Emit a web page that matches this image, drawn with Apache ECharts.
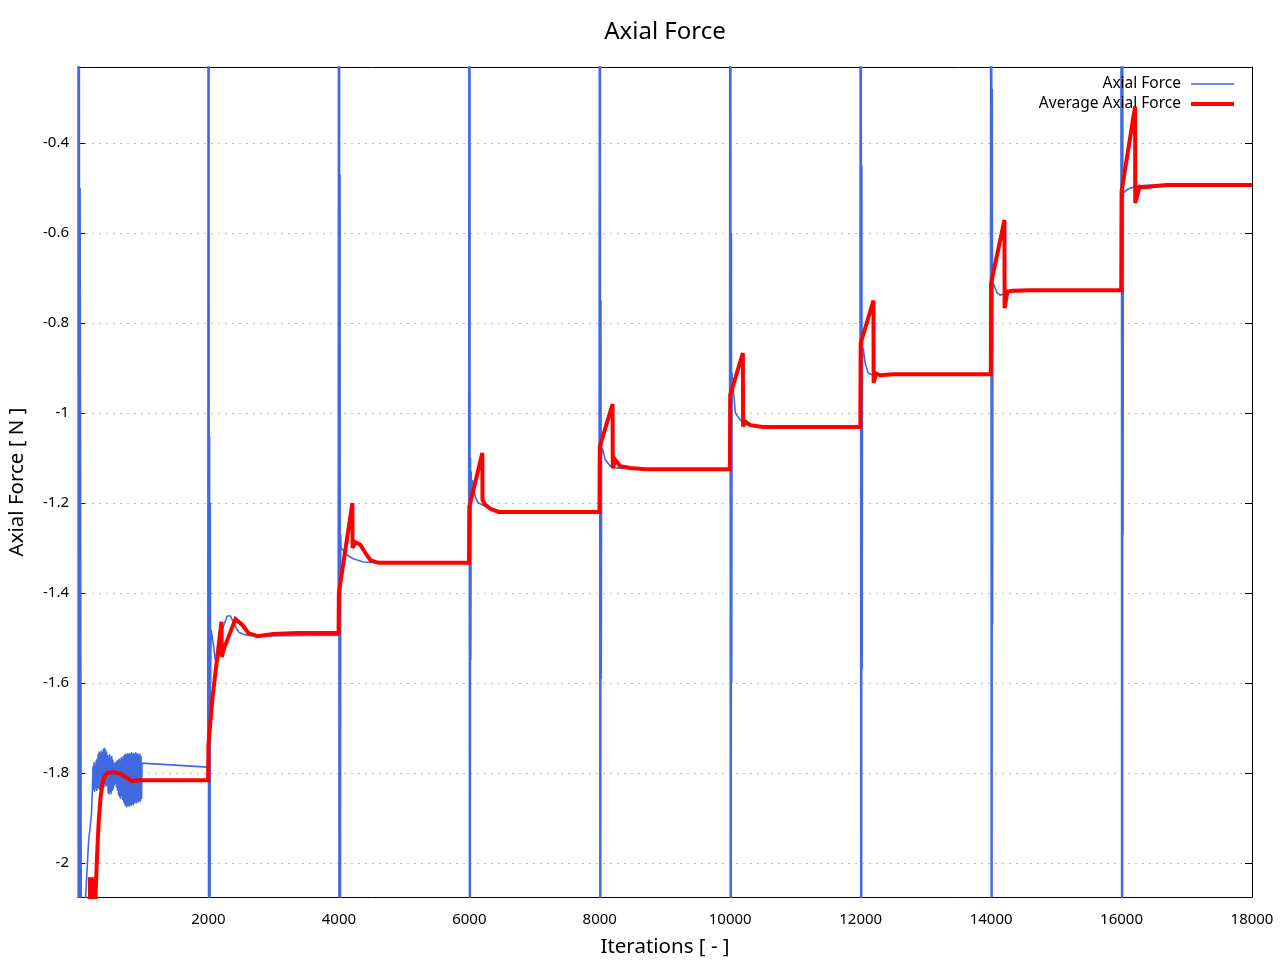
<!DOCTYPE html>
<html>
<head>
<meta charset="utf-8">
<script src="https://cdn.jsdelivr.net/npm/echarts@6/dist/echarts.min.js"></script>
<style>html,body{margin:0;padding:0;background:#fff}#chart{width:1280px;height:960px}</style>
</head>
<body>
<div id="chart"></div>
<script>
// ---- data ----
const titleText = 'Axial Force';
const xAxisName = 'Iterations [ - ]';
const yAxisName = 'Axial Force [ N ]';
const seriesNames = ['Axial Force', 'Average Axial Force'];
const yTicks = [-2, -1.8, -1.6, -1.4, -1.2, -1, -0.8, -0.6, -0.4];
const xRange = [0, 18000];
const yRange = [-2.0756, -0.231];

// Axial Force [iteration, value]
const axialForce = [
  [0, 0.6], [5, -3.5], [10, 0.4], [15, -3.5], [20, 0.2], [26, -3], [32, -0.5], [60, -3], [100, -2.6],
  [115, -2.08], [161, -1.955], [207, -1.89], [222, -1.83],
  [230, -1.785], [238, -1.838], [246, -1.776], [254, -1.842], [262, -1.781], [270, -1.835],
  [278, -1.772], [286, -1.84], [294, -1.768], [302, -1.836], [310, -1.757], [318, -1.833],
  [326, -1.752], [334, -1.838], [342, -1.755], [350, -1.83], [358, -1.75], [366, -1.836],
  [374, -1.753], [382, -1.828], [390, -1.746], [398, -1.832], [406, -1.744], [414, -1.826],
  [422, -1.748], [430, -1.83], [438, -1.752], [446, -1.828], [454, -1.76], [462, -1.845],
  [470, -1.763], [478, -1.848], [486, -1.758], [494, -1.842], [502, -1.766], [510, -1.847],
  [518, -1.762], [526, -1.84], [534, -1.77], [542, -1.836], [550, -1.776], [558, -1.828],
  [566, -1.778], [574, -1.824], [582, -1.775], [590, -1.832], [598, -1.772], [606, -1.84],
  [614, -1.771], [622, -1.85], [630, -1.768], [638, -1.854], [646, -1.772], [654, -1.857],
  [662, -1.765], [670, -1.852], [678, -1.768], [686, -1.86], [694, -1.762], [702, -1.866],
  [710, -1.76], [718, -1.87], [726, -1.757], [734, -1.874], [742, -1.759], [750, -1.876],
  [758, -1.756], [766, -1.872], [774, -1.758], [782, -1.875], [790, -1.755], [798, -1.871],
  [806, -1.757], [814, -1.874], [822, -1.754], [830, -1.869], [838, -1.758], [846, -1.872],
  [854, -1.755], [862, -1.868], [870, -1.757], [878, -1.866], [886, -1.754], [894, -1.868],
  [902, -1.758], [910, -1.864], [918, -1.756], [926, -1.866], [934, -1.76], [942, -1.862],
  [950, -1.757], [958, -1.864], [966, -1.762], [974, -1.858], [982, -1.778], [1990, -1.787],
  [1998, 1.5], [2003, -3.5], [2008, 1.2], [2013, -3], [2018, -1.05], [2023, -3], [2028, -1.2], [2033, -1.6],
  [2041, -1.482], [2081, -1.52], [2107, -1.549], [2158, -1.533], [2210, -1.482], [2287, -1.451], [2337, -1.451],
  [2388, -1.467], [2464, -1.487], [2567, -1.493], [2747, -1.496], [3200, -1.495], [3990, -1.494],
  [3998, 1.5], [4003, -3.5], [4008, 1.2], [4013, -3], [4018, -0.47], [4023, -2.6], [4028, -1.27], [4033, -1.3],
  [4054, -1.298], [4130, -1.316], [4222, -1.324], [4375, -1.331], [4600, -1.333], [5990, -1.334],
  [5998, 1.5], [6003, -3.5], [6008, 1.2], [6013, -3], [6018, -1.1], [6023, -1.55], [6028, -1.13], [6033, -1.16],
  [6046, -1.149], [6092, -1.187], [6138, -1.2], [6276, -1.209], [6475, -1.218], [7000, -1.22], [7990, -1.221],
  [7998, 1.5], [8003, -3.5], [8008, 1.2], [8013, -3], [8018, -0.75], [8023, -1.59], [8028, -1.06], [8033, -1.09],
  [8040, -1.078], [8084, -1.104], [8161, -1.118], [8264, -1.122], [8600, -1.124], [9990, -1.125],
  [9998, 1.5], [10003, -3.5], [10008, 1.2], [10013, -3], [10018, -0.6], [10023, -1.6], [10028, -0.91], [10033, -0.95],
  [10040, -0.935], [10079, -1.0], [10156, -1.016], [10263, -1.027], [10600, -1.031], [11990, -1.031],
  [11998, 1.5], [12003, -3.5], [12008, 1.2], [12013, -3], [12018, -0.45], [12023, -1.57], [12028, -0.84], [12033, -0.87],
  [12040, -0.856], [12069, -0.889], [12115, -0.911], [12191, -0.916], [12500, -0.914], [13990, -0.913],
  [13998, 1.5], [14003, -3.5], [14008, 1.2], [14013, -3], [14018, -0.28], [14023, -1.47], [14028, -0.7], [14033, -0.72],
  [14040, -0.714], [14091, -0.733], [14137, -0.738], [14290, -0.731], [14600, -0.728], [15990, -0.727],
  [15998, 1.5], [16003, -3.5], [16008, 1.2], [16013, -3], [16018, 0], [16023, -1.27], [16028, -0.5], [16033, -0.51],
  [16100, -0.502], [16176, -0.498], [16360, -0.494], [17000, -0.494], [18000, -0.494]
];

// Average Axial Force [iteration, value]
const averageAxialForce = [
  [181, -2.2], [183, -2.036], [240, -2.036], [242, -2.2], [262, -2.2], [268, -2.075],
  [294, -1.978], [319, -1.904], [345, -1.856], [371, -1.827], [395, -1.811], [447, -1.8],
  [549, -1.798], [651, -1.802], [754, -1.811], [831, -1.818], [907, -1.816], [1995, -1.816],
  [2000, -1.738], [2060, -1.635], [2200, -1.464], [2203, -1.542], [2230, -1.527], [2306, -1.498],
  [2414, -1.458], [2521, -1.471], [2613, -1.489], [2751, -1.496], [2996, -1.491], [3364, -1.489], [3995, -1.489],
  [4000, -1.4], [4207, -1.2], [4210, -1.3], [4253, -1.287], [4330, -1.293], [4406, -1.311],
  [4483, -1.327], [4606, -1.333], [5995, -1.333],
  [6000, -1.209], [6199, -1.089], [6202, -1.193], [6245, -1.204], [6322, -1.213], [6445, -1.22], [7995, -1.22],
  [8000, -1.075], [8196, -0.98], [8199, -1.123], [8238, -1.104], [8314, -1.118], [8468, -1.122], [8700, -1.125], [9995, -1.125],
  [10000, -0.96], [10194, -0.867], [10197, -1.03], [10230, -1.019], [10310, -1.027], [10500, -1.031], [11995, -1.031],
  [12000, -0.845], [12196, -0.75], [12199, -0.933], [12235, -0.912], [12300, -0.916], [12500, -0.914], [13995, -0.914],
  [14000, -0.712], [14204, -0.571], [14207, -0.767], [14250, -0.73], [14330, -0.728], [14600, -0.727], [15995, -0.727],
  [16000, -0.508], [16207, -0.319], [16210, -0.533], [16275, -0.497], [16360, -0.498], [16480, -0.496], [16700, -0.493], [18000, -0.493]
];

// ---- chart ----
const FONT = 'Noto Sans';
const chart = echarts.init(document.getElementById('chart'), null, { renderer: 'canvas' });
const axisLineStyle = { color: '#000', width: 1 };
const tickStyle = { show: true, inside: true, length: 7, lineStyle: { color: '#000', width: 1 } };
// legend sample icons: a horizontal bar inside a 43x14 box (tiny corner marks fix the box)
const thinIcon = 'path://M0,0 L0.01,0 L0.01,0.01 Z M0,6.25 L43,6.25 L43,7.75 L0,7.75 Z M42.99,13.99 L43,13.99 L43,14 Z';
const thickIcon = 'path://M0,0 L0.01,0 L0.01,0.01 Z M0,5 L43,5 L43,9 L0,9 Z M42.99,13.99 L43,13.99 L43,14 Z';

const option = {
  animation: false,
  backgroundColor: '#fff',
  textStyle: { fontFamily: FONT },
  title: {
    text: titleText, left: 660, top: 15, textAlign: 'center',
    textStyle: { fontFamily: FONT, fontSize: 24, fontWeight: 'normal', color: '#000' }
  },
  legend: {
    orient: 'vertical', right: 41, top: 71, align: 'right',
    itemWidth: 43, itemHeight: 14, itemGap: 4,
    textStyle: { fontFamily: FONT, fontSize: 15.5, color: '#000', padding: [0, 5, 0, 0] },
    data: [
      { name: seriesNames[0], icon: thinIcon, itemStyle: { color: '#4169E1' } },
      { name: seriesNames[1], icon: thickIcon, itemStyle: { color: '#FF0000' } }
    ]
  },
  grid: { left: 78, right: 28, top: 67, bottom: 63, containLabel: false, outerBoundsMode: 'none' },
  xAxis: [
    {
      type: 'value', position: 'bottom', min: xRange[0], max: xRange[1], interval: 2000,
      name: xAxisName, nameLocation: 'middle', nameGap: 40,
      nameTextStyle: { fontFamily: FONT, fontSize: 20.5, color: '#000' },
      axisLine: { show: true, onZero: false, lineStyle: axisLineStyle },
      axisTick: tickStyle,
      axisLabel: {
        fontFamily: FONT, fontSize: 15, color: '#000', margin: 15,
        formatter: v => (v === 0 ? '' : String(v))
      },
      splitLine: { show: false }
    },
    {
      type: 'value', position: 'top', min: xRange[0], max: xRange[1], interval: 2000,
      axisLine: { show: true, onZero: false, lineStyle: axisLineStyle },
      axisTick: tickStyle, axisLabel: { show: false }, splitLine: { show: false }
    }
  ],
  yAxis: [
    {
      type: 'value', position: 'left', min: yRange[0], max: yRange[1],
      name: yAxisName, nameLocation: 'middle', nameGap: 50,
      nameTextStyle: { fontFamily: FONT, fontSize: 20.5, color: '#000' },
      axisLine: { show: true, onZero: false, lineStyle: axisLineStyle },
      axisTick: Object.assign({}, tickStyle, { customValues: yTicks }),
      axisLabel: {
        fontFamily: FONT, fontSize: 15, color: '#000', margin: 9,
        customValues: yTicks,
        formatter: v => String(Math.round(v * 10) / 10)
      },
      splitLine: { show: true, lineStyle: { color: '#bbbbbb', width: 1, type: [2, 5] } }
    },
    {
      type: 'value', position: 'right', min: yRange[0], max: yRange[1],
      axisLine: { show: true, onZero: false, lineStyle: axisLineStyle },
      axisTick: Object.assign({}, tickStyle, { customValues: yTicks }),
      axisLabel: { show: false, customValues: yTicks },
      splitLine: { show: false }
    }
  ],
  series: [
    {
      name: seriesNames[0], type: 'line', data: axialForce,
      xAxisIndex: 0, yAxisIndex: 0,
      symbol: 'none', showSymbol: false, clip: true,
      lineStyle: { color: '#4169E1', width: 1.6 },
      itemStyle: { color: '#4169E1' }, z: 2
    },
    {
      name: seriesNames[1], type: 'line', data: averageAxialForce,
      xAxisIndex: 0, yAxisIndex: 0,
      symbol: 'none', showSymbol: false, clip: true,
      lineStyle: { color: '#FF0000', width: 4, join: 'miter', miterLimit: 4 },
      itemStyle: { color: '#FF0000' }, z: 3
    }
  ]
};
chart.setOption(option);
</script>
</body>
</html>
